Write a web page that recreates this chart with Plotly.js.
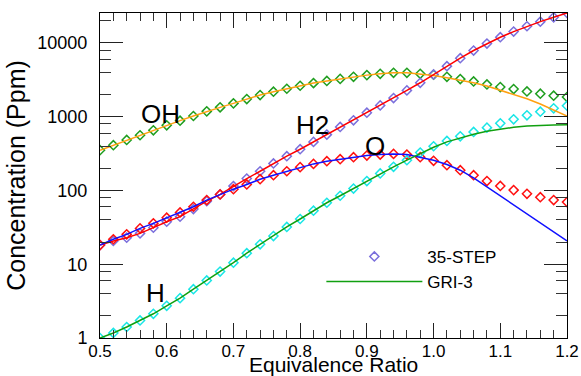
<!DOCTYPE html>
<html>
<head>
<meta charset="utf-8">
<script src="https://cdn.plot.ly/plotly-3.0.1.min.js"></script>
<style>
html,body{margin:0;padding:0;background:#fff;}
#chart{width:581px;height:376px;}
</style>
</head>
<body>
<div id="chart"></div>
<script>
// Equivalence ratio grid
var phi = [0.50,0.52,0.54,0.56,0.58,0.60,0.62,0.64,0.66,0.68,0.70,0.72,0.74,0.76,0.78,0.80,0.82,0.84,
           0.86,0.88,0.90,0.92,0.94,0.96,0.98,1.00,1.02,1.04,1.06,1.08,1.10,1.12,1.14,1.16,1.18,1.20];

// 35-STEP (symbols)
var OH_35 = [351,410,484,560,653,763,883,1021,1180,1337,1514,1732,1963,2178,2389,2623,2850,3050,
             3250,3473,3656,3811,3932,3932,3811,3697,3473,3229,3000,2734,2517,2365,2199,2046,1923,1845];
var H2_35 = [18.2,20.7,22.9,26.2,31.3,37.7,44.1,56,71.7,88.3,114.5,145,182,232,291,362,455,571,
             725,892,1132,1422,1787,2270,2880,3733,4838,6206,7877,9797,11930,14230,16800,19400,22220,25430];
var O_35  = [18.2,21.8,25.4,30.6,35.8,42.7,50.4,60.1,74,88.3,104,120.5,142,161,182,207,229,249,
             265,282,297,306,313,306,282,252,220,188,161,134,115,101,90,81,74,69.5];
var H_35  = [1.0,1.17,1.41,1.73,2.13,2.73,3.47,4.59,6.02,7.96,10.5,14.1,18.6,24.1,32,41,53.1,68.1,
             84.7,106,134,170,209,257,326,397,469,542,621,710,813,920,1042,1169,1297,1409];

// GRI-3 (lines)
var OH_GRI = [351,410,484,560,653,763,883,1021,1180,1337,1514,1732,1963,2178,2389,2623,2850,3050,
              3250,3473,3656,3811,3932,3932,3811,3622,3365,3129,2878,2596,2291,2024,1750,1483,1244,1021];
var H2_GRI = [18.2,20.7,22.9,26.2,31.3,37.7,44.1,56,71.7,88.3,114.5,145,182,232,291,362,455,571,
              725,892,1132,1422,1787,2270,2880,3733,4838,6206,7877,9797,11930,14230,16800,19400,22220,25430];
var O_GRI  = [18.2,21.8,25.4,30.6,35.8,42.7,50.4,60.1,74,88.3,104,120.5,142,161,182,207,229,249,
              265,282,297,306,313,306,279,257,225,188,148,112,84.7,63.4,47.9,35.8,27.1,20.7];
var H_GRI  = [1.0,1.17,1.41,1.73,2.13,2.73,3.47,4.59,6.02,7.96,10.5,14.1,18.6,24.1,32,41,53.1,68.1,
              84.7,106,134,170,209,257,315,385,455,515,577,634,681,717,748,763,771,775];

// species labels placed in data space
var speciesNames = ["OH","H2","O","H"];
var labelX = [0.590, 0.818, 0.912, 0.583];
var labelY = [1081, 780, 405, 4.12];

// axis ticks and titles
var yTickVals = [1,10,100,1000,10000];
var yTickText = ["1","10","100","1000","10000"];
var yMinorVals = [2,4,6,8,20,40,60,80,200,400,600,800,2000,4000,6000,8000,20000];
var xTitle = "Equivalence Ratio";
var yTitle = "Concentration (Ppm)";

var FONT = '"Liberation Sans", Arial, Helvetica, sans-serif';

function sym(y, color, name, show) {
  return {x: phi, y: y, type: 'scatter', mode: 'markers', name: name, showlegend: show,
          marker: {symbol: 'diamond-open', size: 7, color: color, line: {width: 1.5, color: color}}};
}
function line(y, color, name, show) {
  return {x: phi, y: y, type: 'scatter', mode: 'lines', name: name, showlegend: show,
          line: {color: color, width: 1.5}};
}

var traces = [
  sym(OH_35, '#1f9e1f', 'OH 35-STEP', false),
  sym(H2_35, '#7b6fdc', '35-STEP', true),
  sym(O_35,  '#ff1010', 'O 35-STEP', false),
  sym(H_35,  '#19e6e6', 'H 35-STEP', false),
  line(OH_GRI, '#ffa010', 'OH GRI-3', false),
  line(H2_GRI, '#ff0000', 'H2 GRI-3', false),
  line(O_GRI,  '#1010ff', 'O GRI-3', false),
  line(H_GRI,  '#10a010', 'GRI-3', true)
];

var annotations = speciesNames.map(function(s, i) {
  return {x: labelX[i], y: Math.log10(labelY[i]), xref: 'x', yref: 'y', text: s,
          showarrow: false, xanchor: 'center', yanchor: 'middle',
          font: {family: FONT, size: 26, color: '#000'}};
});
// x-axis title (sits at the very bottom edge, as in the reference)
annotations.push({x: 0.5, y: -0.044, xref: 'paper', yref: 'paper', text: xTitle,
                  showarrow: false, xanchor: 'center', yanchor: 'top', borderpad: 0,
                  font: {family: FONT, size: 21, color: '#000'}});

var layout = {
  width: 581, height: 376,
  paper_bgcolor: '#fff', plot_bgcolor: '#fff',
  margin: {l: 100, r: 14, t: 13, b: 38, pad: 0},
  font: {family: FONT, color: '#000'},
  showlegend: true,
  legend: {x: 0.474, y: 0.305, xanchor: 'left', yanchor: 'top',
           bgcolor: 'rgba(0,0,0,0)', itemwidth: 96,
           font: {family: FONT, size: 17, color: '#000'}},
  xaxis: {
    range: [0.5, 1.2], showgrid: false, zeroline: false,
    showline: true, linecolor: '#000', linewidth: 1, mirror: 'ticks',
    ticks: 'inside', ticklen: 15, tickwidth: 1, tickcolor: '#222',
    tick0: 0.5, dtick: 0.1, tickformat: '.1f', ticklabelstandoff: -2,
    minor: {dtick: 0.02, ticks: 'inside', ticklen: 8, tickwidth: 1, tickcolor: '#333', showgrid: false},
    tickfont: {family: FONT, size: 17, color: '#000'}
  },
  yaxis: {
    type: 'log', range: [0, 4.405], showgrid: false, zeroline: false,
    showline: true, linecolor: '#000', linewidth: 1, mirror: 'ticks',
    ticks: 'inside', ticklen: 23, tickwidth: 1, tickcolor: '#222',
    tickmode: 'array', tickvals: yTickVals, ticktext: yTickText,
    ticklabelstandoff: 8,
    minor: {tickmode: 'array', tickvals: yMinorVals, ticks: 'inside', ticklen: 11, tickwidth: 1, tickcolor: '#333', showgrid: false},
    tickfont: {family: FONT, size: 18, color: '#000'},
    title: {text: yTitle, font: {family: FONT, size: 25, color: '#000'}, standoff: 4}
  },
  annotations: annotations
};

Plotly.newPlot('chart', traces, layout, {displayModeBar: false, staticPlot: true});
</script>
</body>
</html>
